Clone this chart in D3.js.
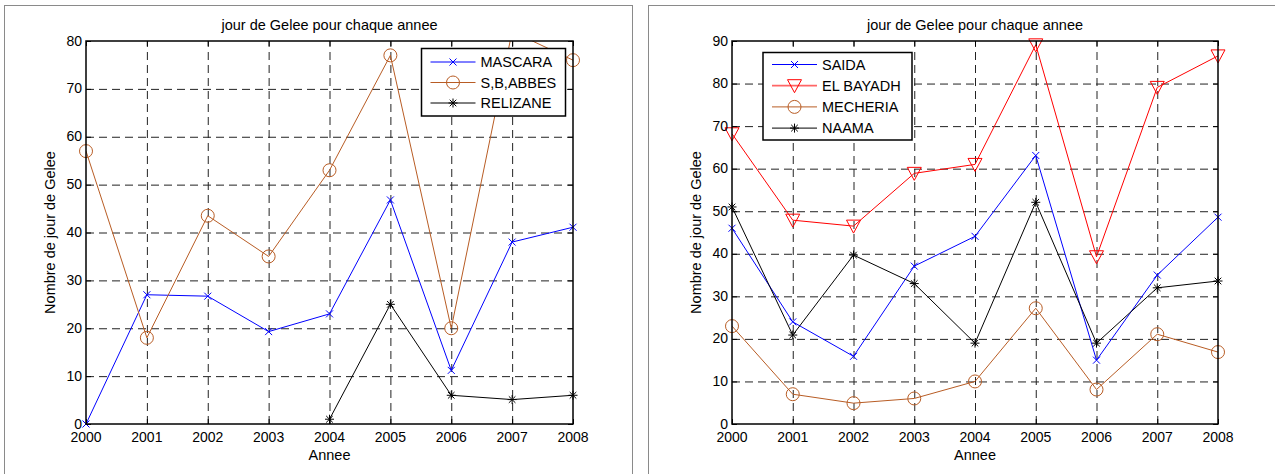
<!DOCTYPE html>
<html lang="fr">
<head>
<meta charset="utf-8">
<title>jour de Gelee pour chaque annee</title>
<script src="https://d3js.org/d3.v7.min.js"></script>
<style>
  body { margin: 0; background: #fff; }
  svg text { font-family: "Liberation Sans", Arial, sans-serif; fill: #000; }
  .grid line { stroke: #222; stroke-dasharray: 8,5; }
  .grid path { display: none; }
  .tk path { display: none; }
  .tk line { stroke: #000; }
</style>
</head>
<body>
<script>
// years on x axis
var years = [2000, 2001, 2002, 2003, 2004, 2005, 2006, 2007, 2008];

// left chart (2007 S,B,ABBES goes above the 80 limit and is clipped)
var mascara   = [0, 27, 26.7, 19.3, 23, 46.8, 11.2, 38, 41.1];
var sbAbbes   = [57, 18, 43.5, 35, 53, 77, 20, 82, 76];
var relizane  = [null, null, null, null, 1, 25, 6, 5.1, 6];

// right chart
var saida     = [46, 24, 15.9, 37.1, 44.1, 63.1, 15, 35, 48.6];
var elBayadh  = [68.2, 47.9, 46.5, 58.9, 61, 89.1, 39.3, 79.1, 86.5];
var mecheria  = [23, 7, 4.9, 6, 10, 27.2, 8.1, 21.1, 16.9];
var naama     = [51, 20.9, 39.7, 33, 19, 52.1, 19, 32, 33.6];

var yTicksLeft  = [0, 10, 20, 30, 40, 50, 60, 70, 80];
var yTicksRight = [0, 10, 20, 30, 40, 50, 60, 70, 80, 90];

var blue = "#0000ff", brown = "#b85c24", red = "#ff0000", black = "#000000";

var svg = d3.select("body").append("svg").attr("width", 1275).attr("height", 474);

// figure frames
svg.append("rect").attr("x", 4.5).attr("y", 5.5).attr("width", 628).attr("height", 480)
  .attr("fill", "none").attr("stroke", "#8a8a8a");
svg.append("rect").attr("x", 648.5).attr("y", 5.5).attr("width", 640).attr("height", 480)
  .attr("fill", "none").attr("stroke", "#8a8a8a");

function marker(g, type, x, y, color) {
  if (type == "x") {
    g.append("path").attr("d", `M${x-3.5},${y-3.5}L${x+3.5},${y+3.5}M${x-3.5},${y+3.5}L${x+3.5},${y-3.5}`)
      .attr("stroke", color).attr("fill", "none");
  } else if (type == "o") {
    g.append("circle").attr("cx", x).attr("cy", y).attr("r", 6.5)
      .attr("stroke", color).attr("fill", "none");
  } else if (type == "v") {
    g.append("path").attr("d", `M${x-7},${y-6}L${x+7},${y-6}L${x},${y+7}Z`)
      .attr("stroke", color).attr("fill", "none");
  } else if (type == "*") {
    var s = 4.5, d = 3.3;
    g.append("path").attr("d", `M${x},${y-s}L${x},${y+s}M${x-s},${y}L${x+s},${y}M${x-d},${y-d}L${x+d},${y+d}M${x-d},${y+d}L${x+d},${y-d}`)
      .attr("stroke", color).attr("fill", "none");
  }
}

function drawChart(opt) {
  var x = d3.scaleLinear().domain([2000, 2008]).range([opt.left, opt.right]);
  var y = d3.scaleLinear().domain([0, opt.ymax]).range([opt.bottom, opt.top]);
  var h = opt.bottom - opt.top, w = opt.right - opt.left;
  var g = svg.append("g");

  svg.append("clipPath").attr("id", opt.id)
    .append("rect").attr("x", opt.left).attr("y", opt.top).attr("width", w).attr("height", h);

  // dashed grid
  g.append("g").attr("class", "grid").attr("transform", `translate(0,${opt.bottom})`)
    .call(d3.axisBottom(x).tickValues(years.slice(1, -1)).tickSize(-h).tickFormat(""));
  g.append("g").attr("class", "grid").attr("transform", `translate(${opt.left},0)`)
    .call(d3.axisLeft(y).tickValues(opt.yticks.slice(1, -1)).tickSize(-w).tickFormat(""));

  // series
  opt.series.forEach(function(s) {
    var pts = years.map((yr, i) => [yr, s.values[i]]);
    var line = d3.line().defined(d => d[1] != null).x(d => x(d[0])).y(d => y(d[1]));
    g.append("path").attr("d", line(pts)).attr("fill", "none").attr("stroke", s.color)
      .attr("stroke-width", 1).attr("clip-path", `url(#${opt.id})`);
    pts.forEach(function(p) {
      if (p[1] != null && p[1] <= opt.ymax) marker(g, s.marker, x(p[0]), y(p[1]), s.color);
    });
  });

  // inner ticks, box
  g.append("g").attr("class", "tk").attr("transform", `translate(0,${opt.bottom})`)
    .call(d3.axisBottom(x).tickValues(years).tickSize(-5).tickFormat(""));
  g.append("g").attr("class", "tk").attr("transform", `translate(0,${opt.top})`)
    .call(d3.axisTop(x).tickValues(years).tickSize(-5).tickFormat(""));
  g.append("g").attr("class", "tk").attr("transform", `translate(${opt.left},0)`)
    .call(d3.axisLeft(y).tickValues(opt.yticks).tickSize(-5).tickFormat(""));
  g.append("g").attr("class", "tk").attr("transform", `translate(${opt.right},0)`)
    .call(d3.axisRight(y).tickValues(opt.yticks).tickSize(-5).tickFormat(""));
  g.append("rect").attr("x", opt.left).attr("y", opt.top).attr("width", w).attr("height", h)
    .attr("fill", "none").attr("stroke", "#000").attr("stroke-width", 1.5);

  // tick labels
  g.selectAll("text.xl").data(years).enter().append("text")
    .attr("x", d => x(d)).attr("y", opt.bottom + 18).attr("text-anchor", "middle")
    .attr("font-size", 14).text(d => d);
  g.selectAll("text.yl").data(opt.yticks).enter().append("text")
    .attr("x", opt.left - 4).attr("y", d => y(d) + 4.5).attr("text-anchor", "end")
    .attr("font-size", 14).text(d => d);

  // title, labels
  var cx = (opt.left + opt.right) / 2;
  g.append("text").attr("x", cx).attr("y", 30).attr("text-anchor", "middle").attr("font-size", 14.5)
    .text("jour de Gelee pour chaque annee");
  g.append("text").attr("x", cx).attr("y", 460).attr("text-anchor", "middle").attr("font-size", 14.5)
    .text("Annee");
  g.append("text").attr("transform", `translate(${opt.left - 31},${(opt.top + opt.bottom) / 2}) rotate(-90)`)
    .attr("text-anchor", "middle").attr("font-size", 14.5).text("Nombre de jour de Gelee");

  // legend
  var L = opt.legend;
  g.append("rect").attr("x", L.x).attr("y", L.y).attr("width", L.w).attr("height", L.h)
    .attr("fill", "#fff").attr("stroke", "#000").attr("stroke-width", 1.5);
  opt.series.forEach(function(s, i) {
    var ry = L.y + L.first + i * L.step;
    g.append("line").attr("x1", L.x + 9).attr("x2", L.x + 54).attr("y1", ry).attr("y2", ry)
      .attr("stroke", s.color).attr("stroke-width", s.marker == "v" ? 1.8 : 1)
      .attr("stroke-opacity", s.marker == "v" ? 0.6 : 1);
    marker(g, s.marker, L.x + 31.5, ry, s.color);
    g.append("text").attr("x", L.x + 59).attr("y", ry + 5).attr("font-size", 14.5).text(s.name);
  });
}

drawChart({
  id: "clipL",
  left: 86, right: 573, top: 41, bottom: 424, ymax: 80, yticks: yTicksLeft,
  legend: { x: 421.5, y: 48.5, w: 144, h: 67.5, first: 13.5, step: 20.5 },
  series: [
    { name: "MASCARA", values: mascara, color: blue, marker: "x" },
    { name: "S,B,ABBES", values: sbAbbes, color: brown, marker: "o" },
    { name: "RELIZANE", values: relizane, color: black, marker: "*" }
  ]
});

drawChart({
  id: "clipR",
  left: 732, right: 1218, top: 41, bottom: 424, ymax: 90, yticks: yTicksRight,
  legend: { x: 763, y: 52.5, w: 149, h: 87.5, first: 12, step: 21.2 },
  series: [
    { name: "SAIDA", values: saida, color: blue, marker: "x" },
    { name: "EL BAYADH", values: elBayadh, color: red, marker: "v" },
    { name: "MECHERIA", values: mecheria, color: brown, marker: "o" },
    { name: "NAAMA", values: naama, color: black, marker: "*" }
  ]
});
</script>
</body>
</html>
